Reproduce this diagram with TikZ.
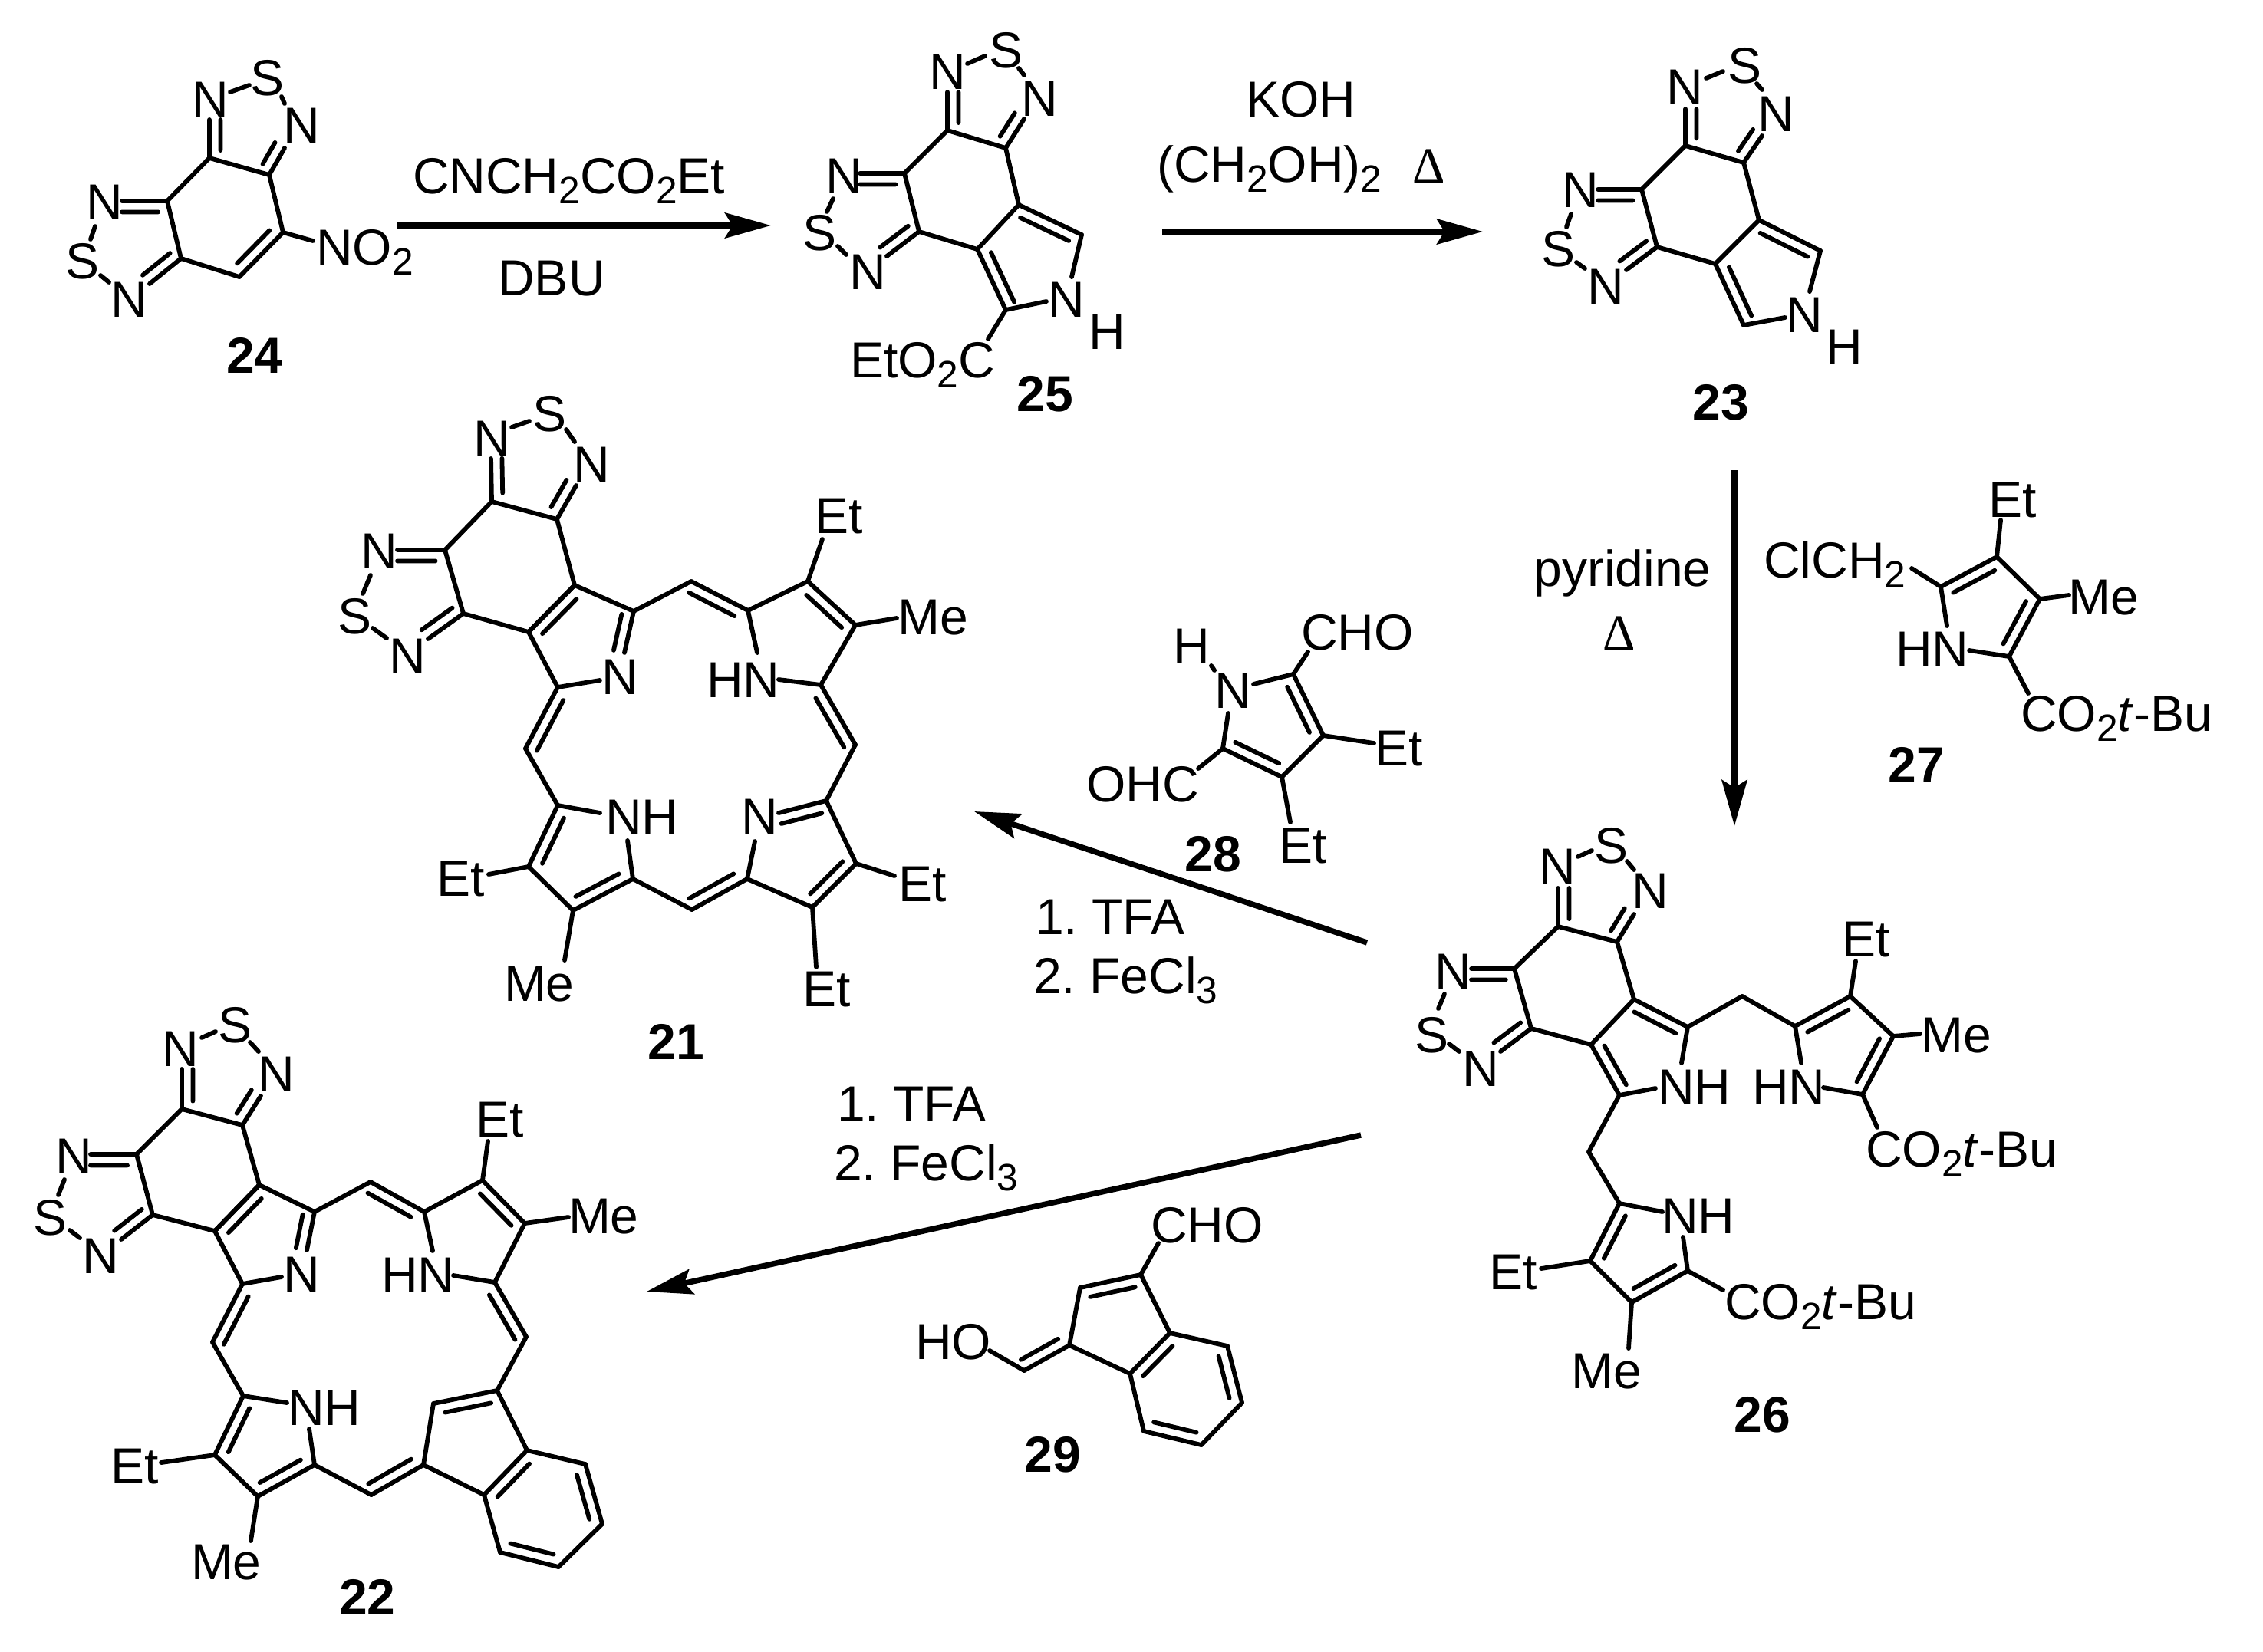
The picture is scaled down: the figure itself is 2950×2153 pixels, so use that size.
\documentclass[tikz,border=0pt]{standalone}
\usepackage{fontspec}
\setmainfont{Liberation Sans}
\newfontfamily\dfont{Liberation Serif}
\usetikzlibrary{calc,arrows.meta}
\frenchspacing
\newcommand{\dn}[1]{\raisebox{-3.3pt}{\fontsize{12.4}{14}\selectfont #1}}
\newcommand{\dbl}[4]{\draw[bond] (#1)--(#2) ($(#1)!#3!(#2)!3.6pt!-90:(#2)$)--($(#2)!#4!(#1)!3.6pt!90:(#1)$);}
\newcommand{\pts}[1]{\foreach \nm/\xx/\yy in {#1} {\coordinate (\nm) at (\xx,\yy);}}
\newcommand{\sgl}[1]{\foreach \pa/\pb in {#1} {\draw[bond] (\pa)--(\pb);}}
\newcommand{\dbs}[1]{\foreach \pa/\pb/\fa/\fb in {#1} {\dbl{\pa}{\pb}{\fa}{\fb}}}
\tikzset{
  bond/.style={line width=1.45pt,line cap=round,line join=round},
  arr/.style={line width=1.85pt,-{Stealth[length=15pt,width=8.25pt,inset=2.5pt]}},
  atom/.style={inner sep=0pt,outer sep=0pt,font=\frenchspacing\fontsize{16.5}{18}\selectfont,anchor=center},
  txt/.style={inner sep=0pt,outer sep=0pt,font=\frenchspacing\fontsize{16.5}{18}\selectfont,anchor=base west,xshift=-1pt},
  ctr/.style={inner sep=0pt,outer sep=0pt,font=\frenchspacing\fontsize{16.5}{18}\selectfont,anchor=base},
  num/.style={inner sep=0pt,outer sep=0pt,font=\fontsize{16.5}{18}\selectfont\bfseries,anchor=base},
}
\begin{document}
\begin{tikzpicture}[x=0.25pt,y=-0.25pt]
\useasboundingbox (0,0) rectangle (2950,2153);
\fill[white] (0,0) rectangle (2950,2153);

% ---------- 24
\pts{Aa/273/206,Ab/351/228,Ac/369/303,Ad/312/361,Ae/236/337,Af/218/262,AN1/273/156,ASa/300/120,ASb/325/111,ASc/367/126,ASd/371/135,AN2/371/193,ANl/159/262,ASe/124/295,ASf/118/312,ASg/131/359,ASh/142/368,ANb/195/370,ANO/408/314}
\sgl{Aa/Ab,Ab/Ac,Ad/Ae,Ae/Af,Af/Aa,ASa/ASb,ASc/ASd,ASe/ASf,ASg/ASh,Ac/ANO}
\dbs{Ac/Ad/.13/.13,Aa/AN1/.2/0,AN2/Ab/0/.2,Ae/ANb/.13/0,ANl/Af/0/.2}
\node[atom] (Al1) at (274,130) {N};
\node[atom] (Al2) at (349,102) {S};
\node[atom] (Al3) at (393,164) {N};
\node[atom] (Al4) at (136,264) {N};
\node[atom] (Al5) at (108,341) {S};
\node[atom] (Al6) at (168,391) {N};
\node[txt] (Al7) at (416,345) {NO\dn{2}};
\node[num] (Al8) at (332,486) {24};

% ---------- arrow 24->25
\coordinate (r1a) at (518,294); \coordinate (r1b) at (1005,294);
\draw[arr] (r1a)--(r1b);
\node[txt] (t1) at (542,252) {CNCH\dn{2}CO\dn{2}Et};
\node[ctr] (t2) at (719,385) {DBU};

% ---------- 25
\pts{Ba/1235/170,Bb/1311/193,Bc/1328/267,Bd/1274/325,Be/1198/302,Bf/1179/226,Bg/1410/306,Bi/1311/404,BNa/1397/361,BNc/1364/393,BCO/1288/442,BN1/1235/120,BSa/1261/83,BSb/1284/73,BSc/1328/89,BSd/1335/98,BN2/1335/155,BNl/1121/226,BSe/1086/259,BSf/1078/276,BSg/1092/321,BSh/1103/332,BNb/1156/334}
\sgl{Ba/Bb,Bb/Bc,Bc/Bd,Bd/Be,Be/Bf,Bf/Ba,Bg/BNa,BNc/Bi,Bi/BCO,BSa/BSb,BSc/BSd,BSe/BSf,BSg/BSh}
\dbs{Bc/Bg/.1/.13,Bi/Bd/.05/.13,Ba/BN1/.2/0,BN2/Bb/0/.2,Be/BNb/.13/0,BNl/Bf/0/.2}
\node[atom] (Bl1) at (1235,94) {N};
\node[atom] (Bl2) at (1311,66) {S};
\node[atom] (Bl3) at (1355,129) {N};
\node[atom] (Bl4) at (1100,230) {N};
\node[atom] (Bl5) at (1068,304) {S};
\node[atom] (Bl6) at (1131,355) {N};
\node[atom] (Bl7) at (1390,391) {N};
\node[atom] (Bl8) at (1443,433) {H};
\node[txt] (Bl9) at (1112,492) {EtO\dn{2}C};
\node[num] (Bl10) at (1362,536) {25};

% ---------- arrow 25->23
\coordinate (r2a) at (1515,302); \coordinate (r2b) at (1933,302);
\draw[arr] (r2a)--(r2b);
\node[ctr] (t3) at (1696,152) {KOH};
\node[txt] (t4) at (1512,237) {(CH\dn{2}OH)\dn{2}};
\node[ctr] (t5) at (1863,238) {{\dfont Δ}};

% ---------- 23
\pts{Ca/2197/190,Cb/2273/212,Cc/2293/287,Cd/2236/344,Ce/2160/322,Cf/2140/247,Cg/2373/327,Ci/2273/424,CNa/2359/380,CNc/2327/414,CN1/2197/142,CSa/2224/102,CSb/2246/93,CSc/2290/109,CSd/2297/117,CN2/2297/177,CNl/2083/247,CSe/2048/279,CSf/2042/296,CSg/2055/342,CSh/2066/350,CNb/2120/352}
\sgl{Ca/Cb,Cb/Cc,Cc/Cd,Cd/Ce,Ce/Cf,Cf/Ca,Cg/CNa,CNc/Ci,CSa/CSb,CSc/CSd,CSe/CSf,CSg/CSh}
\dbs{Cc/Cg/.1/.13,Ci/Cd/.08/.13,Ca/CN1/.2/0,CN2/Cb/0/.2,Ce/CNb/.13/0,CNl/Cf/0/.2}
\node[atom] (Cl1) at (2196,114) {N};
\node[atom] (Cl2) at (2274,86) {S};
\node[atom] (Cl3) at (2315,149) {N};
\node[atom] (Cl4) at (2060,248) {N};
\node[atom] (Cl5) at (2031,325) {S};
\node[atom] (Cl6) at (2093,374) {N};
\node[atom] (Cl7) at (2352,411) {N};
\node[atom] (Cl8) at (2404,453) {H};
\node[num] (Cl9) at (2243,547) {23};

% ---------- arrow 23->26
\coordinate (r3a) at (2261,613); \coordinate (r3b) at (2261,1077);
\draw[arr] (r3a)--(r3b);
\node[ctr] (t6) at (2115,764) {pyridine};
\node[ctr] (t7) at (2111,847) {{\dfont Δ}};

% ---------- 27
\pts{Gp/2530/765,Gq/2603/726,Gr/2659/781,Gs/2619/856,GCl/2492/741,GEt/2608/678,GMe/2697/776,GNa/2567/848,GNb/2538/816,GCO/2644/904}
\sgl{GCl/Gp,Gq/Gr,Gs/GNa,Gp/GNb,Gq/GEt,Gr/GMe,Gs/GCO}
\dbs{Gp/Gq/.13/.13,Gr/Gs/.13/.13}
\node[txt] (Gl1) at (2303,753) {ClCH\dn{2}};
\node[txt] (Gl2) at (2596,674) {Et};
\node[txt] (Gl3) at (2700,801) {Me};
\node[txt] (Gl4) at (2475,869) {HN};
\node[txt] (Gl5) at (2638,953) {CO\dn{2}\textit{t}-Bu};
\node[num] (Gl6) at (2498,1020) {27};

% ---------- 21
\pts{Da/641/654,Db/726/677,Dc/749/763,Dd/689/824,De/604/800,Df/580/717,DN1/640/598,DSa/667/557,DSb/690/549,DSc/738/560,DSd/749/576,DN2/751/633,DNl/518/717,DSe/483/750,DSf/473/774,DSg/486/819,DSh/504/832,DNb/558/833,Dg/826/797,DNg/814/851,DNi/782/887,Di/727/896,Dm1/901/758,Dh/975/796,Dj/1053/758,Dk/1115/815,Dl/1070/893,DNl2/1015/886,DNh/987/851,DEt1/1072/703,DMe1/1169/806,Dm2/1115/971,Dn/1077/1044,Do/1116/1126,Dp/1059/1183,Dq/974/1146,DNn/1015/1060,DNq/984/1097,DEt2/1166/1142,DEt3/1064/1261,Dm3/902/1186,Dr/825/1146,Ds/747/1187,Dt/689/1130,Du/727/1050,DNu/782/1060,DNr/818/1096,DEt4/637/1140,DMe2/736/1252,Dm4/685/976}
\sgl{Da/Db,Db/Dc,Dc/Dd,Dd/De,De/Df,Df/Da,DSa/DSb,DSc/DSd,DSe/DSf,DSg/DSh,Dc/Dg,DNi/Di,Di/Dd,Dg/Dm1,Dh/Dj,Dk/Dl,Dl/DNl2,Dh/DNh,Dj/DEt1,Dk/DMe1,Dm2/Dn,Dn/Do,Dp/Dq,Dq/DNq,Do/DEt2,Dp/DEt3,Dm3/Dr,Ds/Dt,Du/DNu,Dr/DNr,Dt/DEt4,Ds/DMe2,Du/Dm4}
\dbs{Da/DN1/.2/0,DN2/Db/0/.2,De/DNb/.13/0,DNl/Df/0/.2,Dg/DNg/.13/0,Dd/Dc/.13/.13,Dm1/Dh/.05/.15,Dj/Dk/.13/.13,Dl/Dm2/.13/.05,DNn/Dn/0/.15,Do/Dp/.13/.13,Dq/Dm3/.15/.05,Dr/Ds/.15/.13,Dt/Du/.13/.13,Dm4/Di/.05/.13}
\node[atom] (Dl1) at (641,572) {N};
\node[atom] (Dl2) at (716,540) {S};
\node[atom] (Dl3) at (771,606) {N};
\node[atom] (Dl4) at (494,719) {N};
\node[atom] (Dl5) at (463,804) {S};
\node[atom] (Dl6) at (531,856) {N};
\node[atom] (Dl7) at (808,883) {N};
\node[txt] (Dl8) at (925,909) {HN};
\node[txt] (Dl9) at (1066,695) {Et};
\node[txt] (Dl10) at (1174,827) {Me};
\node[atom] (Dl11) at (990,1065) {N};
\node[txt] (Dl12) at (1175,1175) {Et};
\node[txt] (Dl13) at (1050,1312) {Et};
\node[txt] (Dl14) at (793,1088) {NH};
\node[txt] (Dl15) at (573,1168) {Et};
\node[txt] (Dl16) at (661,1305) {Me};
\node[num] (Dl17) at (881,1381) {21};

% ---------- 28
\pts{Ha/1686/879,Hb/1725/959,Hc/1671/1013,Hd/1594/976,HNa/1634/892,HNd/1601/930,HHa/1579/868,HHb/1583/874,HCHO/1705/850,HEt1/1791/969,HEt2/1682/1072,HOHC/1562/1002}
\sgl{HNa/Ha,Hb/Hc,Hd/HNd,HHa/HHb,Ha/HCHO,Hb/HEt1,Hc/HEt2,Hd/HOHC}
\dbs{Ha/Hb/.13/.13,Hc/Hd/.13/.13}
\node[atom] (Hl1) at (1607,901) {N};
\node[atom] (Hl2) at (1553,843) {H};
\node[txt] (Hl3) at (1700,847) {CHO};
\node[txt] (Hl4) at (1796,998) {Et};
\node[txt] (Hl5) at (1671,1125) {Et};
\node[txt] (Hl6) at (1420,1045) {OHC};
\node[num] (Hl7) at (1581,1136) {28};

% ---------- arrow 26->21
\coordinate (r4a) at (1782,1229); \coordinate (r4b) at (1270,1058);
\draw[arr] (r4a)--(r4b);
\node[txt] (t8) at (1354,1218) {1. TFA};
\node[txt] (t9) at (1351,1295) {2. FeCl\dn{3}};

% ---------- 26
\pts{Ea/2031/1208,Eb/2108/1228,Ec/2130/1303,Ed/2074/1362,Ee/1996/1341,Ef/1974/1263,EN1/2031/1158,ESa/2057/1117,ESb/2075/1109,ESc/2121/1123,ESd/2130/1134,EN2/2130/1192,ENl/1918/1263,ESe/1883/1296,ESf/1875/1315,ESg/1889/1361,ESh/1902/1371,ENb/1956/1371,Eg/2200/1339,ENg/2192/1386,ENi/2158/1419,Ei/2111/1428,Em/2271/1299,Eh/2340/1338,Ej/2412/1299,Ek/2468/1351,El/2428/1427,ENl2/2377/1418,ENh/2348/1386,EEt1/2419/1253,EMe1/2503/1348,ECO1/2447/1470,Em2/2071/1502,En/2111/1569,ENn/2167/1580,ENo/2194/1613,Eo/2200/1657,Ep/2127/1698,Eq/2073/1644,ECO2/2246/1682,EEt2/2009/1654,EMe2/2123/1758}
\sgl{Ea/Eb,Eb/Ec,Ec/Ed,Ed/Ee,Ee/Ef,Ef/Ea,ESa/ESb,ESc/ESd,ESe/ESf,ESg/ESh,Eg/ENg,ENi/Ei,Eg/Em,Em/Eh,Ej/Ek,El/ENl2,Eh/ENh,Ej/EEt1,Ek/EMe1,El/ECO1,Ei/Em2,Em2/En,En/ENn,ENo/Eo,Ep/Eq,Eo/ECO2,Eq/EEt2,Ep/EMe2}
\dbs{Ea/EN1/.2/0,EN2/Eb/0/.2,Ee/ENb/.13/0,ENl/Ef/0/.2,Ec/Eg/.1/.13,Ei/Ed/.1/.13,Eh/Ej/.13/.13,Ek/El/.13/.13,Eo/Ep/.13/.13,Eq/En/.13/.13}
\node[atom] (El1) at (2030,1130) {N};
\node[atom] (El2) at (2100,1103) {S};
\node[atom] (El3) at (2151,1162) {N};
\node[atom] (El4) at (1894,1267) {N};
\node[atom] (El5) at (1866,1350) {S};
\node[atom] (El6) at (1930,1394) {N};
\node[txt] (El7) at (2165,1440) {NH};
\node[txt] (El8) at (2288,1440) {HN};
\node[txt] (El9) at (2405,1247) {Et};
\node[txt] (El10) at (2508,1372) {Me};
\node[txt] (El11) at (2436,1521) {CO\dn{2}\textit{t}-Bu};
\node[txt] (El12) at (2170,1608) {NH};
\node[txt] (El13) at (2252,1720) {CO\dn{2}\textit{t}-Bu};
\node[txt] (El14) at (1945,1681) {Et};
\node[txt] (El15) at (2052,1810) {Me};
\node[num] (El16) at (2297,1867) {26};

% ---------- arrow 26->22
\coordinate (r5a) at (1774,1480); \coordinate (r5b) at (843,1684);
\draw[arr] (r5a)--(r5b);
\node[txt] (t10) at (1095,1462) {1. TFA};
\node[txt] (t11) at (1091,1539) {2. FeCl\dn{3}};

% ---------- 29
\pts{Ia/1335/1787,Ib/1394/1754,Ic/1408/1679,Id/1487/1662,Ie/1525/1738,If/1473/1791,Ig/1600/1755,Ih/1619/1829,Ik/1566/1884,Il/1491/1866,IHO/1290/1761,ICHO/1510/1621}
\sgl{IHO/Ia,Ib/Ic,Id/Ie,If/Ib,Ie/Ig,Ih/Ik,Il/If,Id/ICHO}
\dbs{Ib/Ia/.13/.05,Ic/Id/.13/.13,If/Ie/.13/.13,Ig/Ih/.13/.13,Ik/Il/.13/.13}
\node[txt] (Il1) at (1197,1772) {HO};
\node[txt] (Il2) at (1504,1620) {CHO};
\node[num] (Il3) at (1372,1919) {29};

% ---------- 22
\pts{Fa/237/1446,Fb/316/1467,Fc/338/1545,Fd/280/1605,Fe/199/1584,Ff/178/1505,FN1/237/1394,FSa/263/1353,FSb/281/1345,FSc/326/1359,FSd/337/1371,FN2/340/1429,FNl/118/1505,FSe/84/1538,FSf/76/1558,FSg/91/1604,FSh/104/1614,FNb/158/1616,Fg/410/1580,FNg/400/1630,FNi/367/1665,Fi/316/1674,Fm1/483/1541,Fh/553/1580,Fj/629/1539,Fk/684/1595,Fl/645/1672,FNh/564/1631,FNl2/591/1663,FEt1/636/1488,FMe1/741/1587,Fm2/686/1743,Fn/648/1813,Fx/565/1830,Fq/552/1910,Fy/631/1949,Fz/687/1891,Fw/763/1909,Fv/785/1987,Fu/728/2043,Ftt/652/2024,Fm3/484/1949,Fr/410/1910,Fs/336/1951,Ft/280/1897,Fo/317/1820,FNo/374/1829,FNr/403/1863,FEt2/210/1907,FMe2/327/2009,Fm4/277/1750}
\sgl{Fa/Fb,Fb/Fc,Fc/Fd,Fd/Fe,Fe/Ff,Ff/Fa,FSa/FSb,FSc/FSd,FSe/FSf,FSg/FSh,Fc/Fg,FNi/Fi,Fi/Fd,Fg/Fm1,Fh/Fj,Fk/Fl,Fh/FNh,Fl/FNl2,Fj/FEt1,Fk/FMe1,Fm2/Fn,Fx/Fq,Fq/Fy,Fn/Fz,Fz/Fw,Fv/Fu,Ftt/Fy,Fm3/Fr,Fs/Ft,Fo/FNo,Fr/FNr,Ft/FEt2,Fs/FMe2,Fo/Fm4}
\dbs{Fa/FN1/.2/0,FN2/Fb/0/.2,Fe/FNb/.13/0,FNl/Ff/0/.2,Fg/FNg/.13/0,Fd/Fc/.13/.13,Fm1/Fh/.05/.15,Fj/Fk/.13/.13,Fl/Fm2/.13/.05,Fx/Fn/.15/.13,Fy/Fz/.13/.13,Fw/Fv/.13/.13,Fu/Ftt/.13/.13,Fq/Fm3/.13/.05,Fr/Fs/.15/.13,Ft/Fo/.13/.13,Fm4/Fi/.05/.13}
\node[atom] (Fl1) at (235,1368) {N};
\node[atom] (Fl2) at (307,1337) {S};
\node[atom] (Fl3) at (360,1401) {N};
\node[atom] (Fl4) at (96,1508) {N};
\node[atom] (Fl5) at (66,1588) {S};
\node[atom] (Fl6) at (131,1638) {N};
\node[atom] (Fl7) at (393,1662) {N};
\node[txt] (Fl8) at (501,1685) {HN};
\node[txt] (Fl9) at (624,1482) {Et};
\node[txt] (Fl10) at (745,1608) {Me};
\node[txt] (Fl11) at (379,1858) {NH};
\node[txt] (Fl12) at (148,1934) {Et};
\node[txt] (Fl13) at (253,2059) {Me};
\node[num] (Fl14) at (479,2105) {22};
\end{tikzpicture}
\end{document}
